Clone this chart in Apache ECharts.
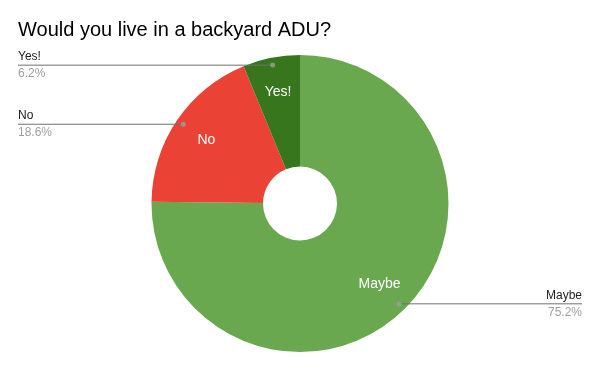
<!DOCTYPE html>
<html>
<head>
<meta charset="utf-8">
<script src="https://cdn.jsdelivr.net/npm/echarts@6/dist/echarts.min.js"></script>
<style>html,body{margin:0;padding:0;background:#fff;}#c{width:600px;height:371px;}</style>
</head>
<body>
<div id="c"></div>
<script>
const titleText = 'Would you live in a backyard ADU?';
const categories = ['Maybe', 'No', 'Yes!'];
const values = [75.2, 18.6, 6.2];
const colors = ['#6aa84f', '#ea4335', '#38761d'];

const FONT = "'Liberation Sans', Arial, sans-serif";
const total = values.reduce((a, b) => a + b, 0);
const mids = [];
let acc = 0;
values.forEach(v => { mids.push(acc + v / 2); acc += v; });

const ctx = document.createElement('canvas').getContext('2d');
ctx.font = "12px 'Liberation Sans', Arial, sans-serif";
const textW = s => ctx.measureText(s).width;

const pieData = categories.map((n, i) => ({ name: n, value: values[i], itemStyle: { color: colors[i] } }));
const plainData = categories.map((n, i) => ({ name: n, value: values[i] }));
const outerData = categories.map((n, i) => {
  const w = Math.max(textW(n), textW(values[i].toFixed(1) + '%'));
  return { name: n, value: values[i], label: { distanceToLabelLine: -w } };
});
const dotData = mids.map(m => [0.95, m]);

const CX = '50%', CY = 203.5, R = 148.5;

const chart = echarts.init(document.getElementById('c'), null, { renderer: 'canvas' });
chart.setOption({
  animation: false,
  backgroundColor: '#ffffff',
  title: {
    text: titleText, left: 18, top: 20, padding: 0,
    textStyle: { fontFamily: FONT, fontSize: 20, fontWeight: 'normal', color: '#000000' }
  },
  polar: { center: [CX, CY], radius: R },
  angleAxis: { type: 'value', min: 0, max: total, startAngle: 90, clockwise: true, show: false },
  radiusAxis: { type: 'value', min: 0, max: 1, show: false },
  series: [
    {
      type: 'pie', center: [CX, CY], radius: [37, R], startAngle: 90, clockwise: true,
      silent: true, z: 2, label: { show: false }, labelLine: { show: false },
      data: pieData
    },
    {
      type: 'pie', center: [CX, CY], radius: [72, R], startAngle: 90, clockwise: true,
      silent: true, z: 3,
      itemStyle: { color: 'rgba(0,0,0,0)' },
      label: { show: true, position: 'inside', color: '#ffffff', fontFamily: FONT, fontSize: 14, formatter: '{b}' },
      labelLine: { show: false },
      data: plainData
    },
    {
      type: 'pie', center: [CX, CY], radius: [0, 141], startAngle: 90, clockwise: true,
      silent: true, z: 3,
      itemStyle: { color: 'rgba(0,0,0,0)' },
      label: {
        show: true, position: 'outside', alignTo: 'edge', edgeDistance: 18,
        fontFamily: FONT,
        formatter: p => '{n|' + p.name + '}\n{p|' + p.value.toFixed(1) + '%}',
        rich: {
          n: { fontFamily: FONT, fontSize: 12, color: '#222222', lineHeight: 17 },
          p: { fontFamily: FONT, fontSize: 12, color: '#9e9e9e', lineHeight: 17 }
        }
      },
      labelLine: { show: true, length: 0, length2: 10, lineStyle: { color: '#707070', width: 1 } },
      data: outerData
    },
    {
      type: 'scatter', coordinateSystem: 'polar', silent: true, z: 5,
      symbol: 'circle', symbolSize: 5,
      itemStyle: { color: '#9e9e9e' },
      data: dotData
    }
  ]
});
</script>
</body>
</html>
